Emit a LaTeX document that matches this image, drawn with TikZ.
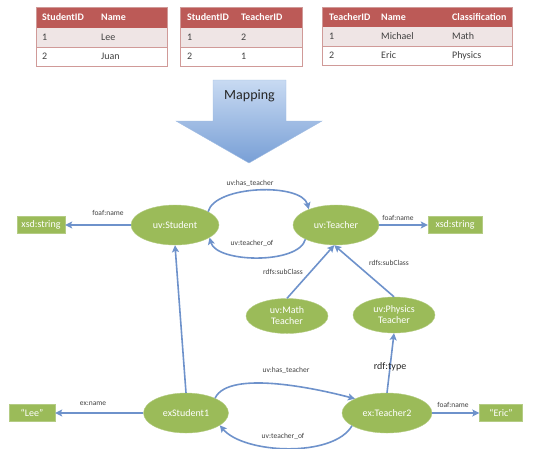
\documentclass[tikz,border=0pt]{standalone}
\usepackage{fontspec}
\setmainfont{Carlito}
\usepackage{xcolor}
\usepackage{tikz}
\usetikzlibrary{shapes.geometric,arrows.meta}

\definecolor{hdred}{HTML}{BC5A57}
\definecolor{rowpink}{HTML}{EFE5E5}
\definecolor{tabedge}{HTML}{D09A98}
\definecolor{olive}{HTML}{9BBB59}
\definecolor{oliveedge}{HTML}{B4CC84}
\definecolor{linkblue}{HTML}{6E92CB}
\definecolor{mapfar}{HTML}{C8DAF2}
\definecolor{mapnear}{HTML}{789FD6}
\definecolor{lblgray}{HTML}{404040}

\begin{document}
\begin{tikzpicture}[x=1pt,y=-1pt,
	hdtxt/.style={anchor=west,text=white,font=\fontsize{10}{11}\selectfont\bfseries,inner sep=0pt},
	celltxt/.style={anchor=west,text=lblgray,font=\fontsize{10}{11}\selectfont,inner sep=0pt},
	cls/.style={ellipse,fill=olive,draw=oliveedge,thin,text=white,inner sep=0pt,
		font=\fontsize{10}{11}\selectfont,align=center,minimum height=40pt},
	lit/.style={rectangle,fill=olive,draw=oliveedge,thin,text=white,inner sep=0pt,
		font=\fontsize{10}{11}\selectfont,minimum height=17pt},
	edge/.style={draw=linkblue,line width=1.6pt,-{Stealth[length=7pt,width=7pt,inset=1.5pt]}},
	lbl/.style={text=lblgray,font=\fontsize{7.5}{8}\selectfont,inner sep=0pt}]
	\useasboundingbox (0,0) rectangle (534,448);
	
	% tables
	\fill[hdred] (36,7) rectangle (167,28);
	\fill[rowpink] (36,28) rectangle (167,47);
	\draw[tabedge] (36,47) -- (167,47);
	\draw[tabedge] (36,7) rectangle (167,66);
	\foreach \x/\h/\p/\q [count=\i] in {42/StudentID/1/2,101/Name/Lee/Juan}{
		\node[hdtxt] (a-h\i) at (\x,17.5) {\h};
		\node[celltxt] (a-1\i) at (\x,37.5) {\p};
		\node[celltxt] (a-2\i) at (\x,56.5) {\q};
	}
	
	\fill[hdred] (180,7) rectangle (302,28);
	\fill[rowpink] (180,28) rectangle (302,47);
	\draw[tabedge] (180,47) -- (302,47);
	\draw[tabedge] (180,7) rectangle (302,66);
	\foreach \x/\h/\p/\q [count=\i] in {187/StudentID/1/2,241/TeacherID/2/1}{
		\node[hdtxt] (b-h\i) at (\x,17.5) {\h};
		\node[celltxt] (b-1\i) at (\x,37.5) {\p};
		\node[celltxt] (b-2\i) at (\x,56.5) {\q};
	}
	
	\fill[hdred] (322,7) rectangle (512,27);
	\fill[rowpink] (322,27) rectangle (512,46);
	\draw[tabedge] (322,46) -- (512,46);
	\draw[tabedge] (322,7) rectangle (512,65);
	\foreach \x/\h/\p/\q [count=\i] in {329/TeacherID/1/2,381/Name/Michael/Eric,452/Classification/Math/Physics}{
		\node[hdtxt] (c-h\i) at (\x,17) {\h};
		\node[celltxt] (c-1\i) at (\x,36.5) {\p};
		\node[celltxt] (c-2\i) at (\x,55.5) {\q};
	}
	
	% mapping arrow
	\shade[top color=mapfar,bottom color=mapnear,draw=mapnear!70,thin]
		(213,80) -- (286,80) -- (286,121) -- (322,121) -- (249,163) -- (176,121) -- (213,121) -- cycle;
	\node[text=black!85,font=\fontsize{14}{15}\selectfont,inner sep=0pt] (map) at (249.5,96) {Mapping};
	
	% schema
	\node[cls,minimum width=88pt] (stu) at (175,225) {uv:Student};
	\node[cls,minimum width=86pt] (tea) at (336,225) {uv:Teacher};
	\node[lit,minimum width=48pt] (str1) at (41,225) {xsd:string};
	\node[lit,minimum width=54pt] (str2) at (455,225) {xsd:string};
	\node[cls,minimum width=82pt,minimum height=35pt] (math) at (287,316) {uv:Math\\Teacher};
	\node[cls,minimum width=82pt,minimum height=36pt] (phys) at (394,315) {uv:Physics\\Teacher};
	
	% instances
	\node[cls,minimum width=85pt] (exs) at (186,413) {exStudent1};
	\node[cls,minimum width=90pt] (tea2) at (387,413) {ex:Teacher2};
	\node[lit,minimum width=46pt] (lee) at (32,413) {“Lee”};
	\node[lit,minimum width=43pt] (eric) at (501,413) {“Eric”};
	
	\draw[edge] (stu.west) -- (str1.east);
	\draw[edge] (tea.east) -- (str2.west);
	\draw[edge] (stu.22) to[out=75,in=105,looseness=0.7] (tea.150);
	\draw[edge] (tea.205) to[out=-105,in=-75,looseness=0.7] (stu.-20);
	\draw[edge] (math.north) -- (tea.-95);
	\draw[edge] (phys.north) -- (tea.-95);
	\draw[edge] (exs.north) -- (stu.south);
	\draw[edge] (tea2.north) -- (phys.south);
	\draw[edge] (exs.west) -- (lee.east);
	\draw[edge] (tea2.east) -- (eric.west);
	\draw[edge] (exs.27) to[out=65,in=165,looseness=0.6] (tea2.156);
	\draw[edge] (tea2.200) to[out=-120,in=-50,looseness=0.72] (exs.-20);
	
	\node[lbl] (l1) at (108,213) {foaf:name};
	\node[lbl] (l2) at (398,218) {foaf:name};
	\node[lbl] (l3) at (250,183) {uv:has\_teacher};
	\node[lbl] (l4) at (252,243) {uv:teacher\_of};
	\node[lbl] (l5) at (283,272) {rdfs:subClass};
	\node[lbl] (l6) at (389,263) {rdfs:subClass};
	\node[lbl] (l7) at (286,370) {uv:has\_teacher};
	\node[lbl] (l8) at (283,436) {uv:teacher\_of};
	\node[lbl] (l9) at (93,404) {ex:name};
	\node[lbl] (l10) at (453,405) {foaf:name};
	\node[text=black!85,font=\fontsize{10}{11}\selectfont,inner sep=0pt] (l11) at (390,367) {rdf:type};
\end{tikzpicture}
\end{document}
